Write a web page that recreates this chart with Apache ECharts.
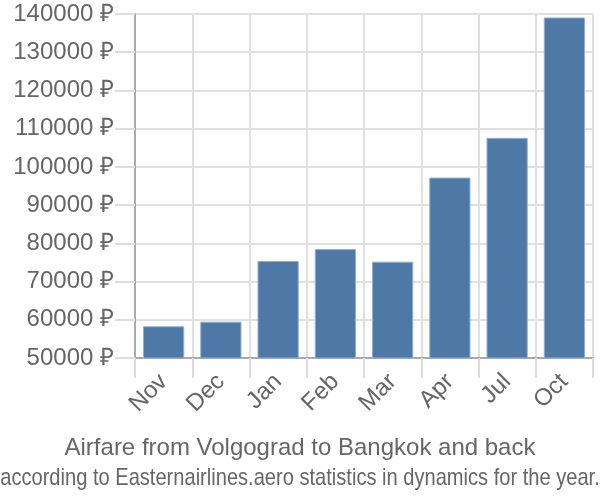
<!DOCTYPE html>
<html>
<head>
<meta charset="utf-8">
<script src="https://cdn.jsdelivr.net/npm/echarts@6/dist/echarts.min.js"></script>
<style>
  html, body { margin: 0; padding: 0; background: #fff; }
  #chart { width: 600px; height: 500px; }
</style>
</head>
<body>
<div id="chart"></div>
<script>
var months = ['Nov', 'Dec', 'Jan', 'Feb', 'Mar', 'Apr', 'Jul', 'Oct'];
var prices = [58300, 59500, 75400, 78500, 75200, 97200, 107600, 139100];

var titleText = 'Airfare from Volgograd to Bangkok and back';
var subText = 'according to Easternairlines.aero statistics in dynamics for the year.';

var chart = echarts.init(document.getElementById('chart'));

chart.setOption({
    animation: false,
    textStyle: { fontFamily: 'Liberation Sans' },
    title: {
        text: titleText,
        left: 'center',
        top: 431,
        textStyle: { color: '#666', fontSize: 24, fontWeight: 'normal', fontFamily: 'Liberation Sans' }
    },
    // subtitle is a condensed face in the original, so squeeze it horizontally
    graphic: [{
        type: 'text',
        x: 300,
        y: 466,
        scaleX: 0.837,
        style: {
            text: subText,
            fill: '#666',
            font: '24px "Liberation Sans"',
            textAlign: 'center',
            textVerticalAlign: 'top'
        }
    }],
    grid: { left: 135, right: 7, top: 14, bottom: 142 },
    xAxis: {
        type: 'category',
        data: months,
        axisLine: { lineStyle: { color: '#aaa', width: 2 } },
        axisTick: { show: true, length: 20, lineStyle: { color: '#ddd', width: 2 } },
        splitLine: { show: true, lineStyle: { color: '#e0e0e0', width: 2 } },
        axisLabel: { rotate: 45, color: '#666', fontSize: 24, margin: 20 }
    },
    yAxis: {
        type: 'value',
        min: 50000,
        max: 140000,
        interval: 10000,
        axisLine: { show: true, lineStyle: { color: '#aaa', width: 2 } },
        axisTick: { show: true, length: 20, lineStyle: { color: '#ddd', width: 2 } },
        splitLine: { lineStyle: { color: '#e0e0e0', width: 2 } },
        axisLabel: {
            color: '#666',
            fontSize: 24,
            margin: 21,
            formatter: function(v) { return v + ' ₽'; }
        }
    },
    series: [{
        type: 'bar',
        data: prices,
        barCategoryGap: '28%',
        itemStyle: { color: '#4e79a7', borderColor: '#8fb0d0', borderWidth: 1 }
    }]
});
</script>
</body>
</html>
